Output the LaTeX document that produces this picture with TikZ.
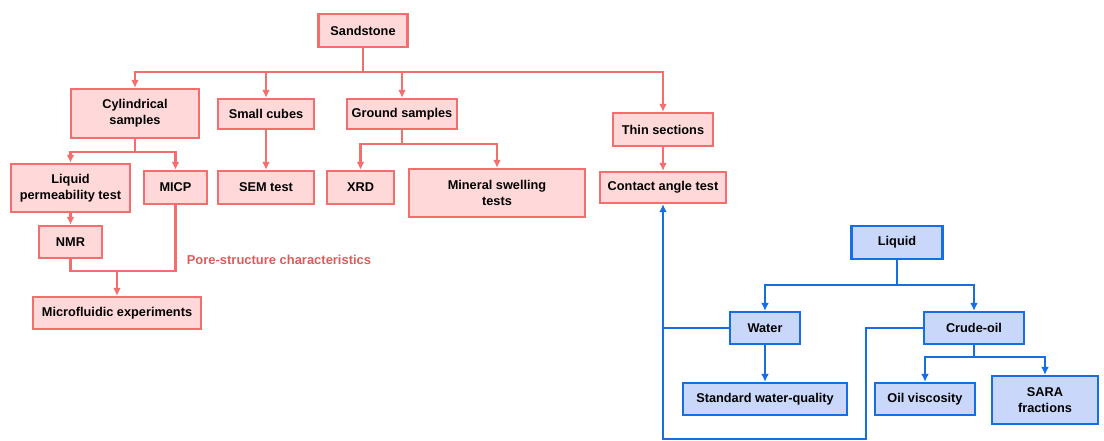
\documentclass[tikz,border=0pt]{standalone}
\usepackage{fontspec}
\setmainfont{Liberation Sans}
\usepackage{tikz}
\usetikzlibrary{arrows.meta}
\tikzset{>={Latex[length=8bp, width=8bp]}}
\definecolor{rock}{RGB}{245,110,110}
\definecolor{rockfill}{RGB}{255,217,217}
\definecolor{rocktext}{RGB}{222,92,92}
\definecolor{fluid}{RGB}{22,110,228}
\definecolor{fluidfill}{RGB}{201,216,250}
\tikzset{
  box/.style={line width=2.4bp, inner sep=0pt, align=center,
    font=\bfseries\fontsize{12.8}{16}\selectfont},
  rockbox/.style={box, draw=rock, fill=rockfill},
  fluidbox/.style={box, draw=fluid, fill=fluidfill},
  rline/.style={draw=rock, line width=2.3bp},
  bline/.style={draw=fluid, line width=2.8bp},
}

\begin{document}
\begin{tikzpicture}[x=1bp, y=-1bp]
    \useasboundingbox (0, 0) rectangle (1104, 441);
    % sample tree
    \node[rockbox, minimum width=89bp, minimum height=33bp] (sand) at (363, 30.5) {Sandstone};
    \node[rockbox, minimum width=128bp, minimum height=49bp] (cyl) at (135, 113.5) {Cylindrical\\samples};
    \node[rockbox, minimum width=96bp, minimum height=30bp] (cube) at (266, 114) {Small cubes};
    \node[rockbox, minimum width=110bp, minimum height=30bp] (ground) at (402, 114) {Ground samples};
    \node[rockbox, minimum width=100bp, minimum height=33bp] (thin) at (663, 129.5) {Thin sections};
    \node[rockbox, minimum width=126bp, minimum height=31bp] (contact) at (663, 187.5) {Contact angle test};
    \node[rockbox, minimum width=119bp, minimum height=48bp] (perm) at (70.5, 188) {Liquid\\permeability test};
    \node[rockbox, minimum width=63bp, minimum height=33bp] (micp) at (175.5, 187.5) {MICP};
    \node[rockbox, minimum width=96bp, minimum height=33bp] (sem) at (266, 187.5) {SEM test};
    \node[rockbox, minimum width=67bp, minimum height=33bp] (xrd) at (360.5, 187.5) {XRD};
    \node[rockbox, minimum width=176bp, minimum height=48bp] (swell) at (497, 193) {Mineral swelling\\tests};
    \node[rockbox, minimum width=63bp, minimum height=32bp] (nmr) at (70.5, 242) {NMR};
    \node[rockbox, minimum width=168bp, minimum height=32bp] (micro) at (117, 313) {Microfluidic experiments};
    \node[font=\bfseries\fontsize{13}{16}\selectfont, text=rocktext] (pore) at (279, 260) {Pore-structure characteristics};

    \coordinate (bus) at (363, 72);
    \coordinate (cylbus) at (135, 152);
    \coordinate (groundbus) at (402, 144);
    \coordinate (join) at (117, 271);
    \draw[rline] (sand) -- (bus);
    \draw[rline, ->] (bus) -| (cyl);
    \draw[rline, ->] (bus) -| (cube);
    \draw[rline, ->] (bus) -| (ground);
    \draw[rline, ->] (bus) -| (thin);
    \draw[rline] (cyl) -- (cylbus);
    \draw[rline, ->] (cylbus) -| (perm);
    \draw[rline, ->] (cylbus) -| (micp);
    \draw[rline, ->] (cube) -- (sem);
    \draw[rline] (ground) -- (groundbus);
    \draw[rline, ->] (groundbus) -| (xrd);
    \draw[rline, ->] (groundbus) -| (swell);
    \draw[rline, ->] (thin) -- (contact);
    \draw[rline, ->] (perm) -- (nmr);
    \draw[rline] (nmr) |- (join);
    \draw[rline] (micp) |- (join);
    \draw[rline, ->] (join) -- (micro);

    % liquid tree
    \node[fluidbox, minimum width=91bp, minimum height=33bp] (liquid) at (897, 242.5) {Liquid};
    \node[fluidbox, minimum width=70bp, minimum height=32bp] (water) at (765, 328) {Water};
    \node[fluidbox, minimum width=100bp, minimum height=32bp] (crude) at (974, 328) {Crude-oil};
    \node[fluidbox, minimum width=164bp, minimum height=32bp] (quality) at (765, 399) {Standard water-quality};
    \node[fluidbox, minimum width=100bp, minimum height=32bp] (visc) at (925, 399) {Oil viscosity};
    \node[fluidbox, minimum width=106bp, minimum height=48bp] (sara) at (1045, 400) {SARA\\fractions};

    \coordinate (lbus) at (897, 285);
    \coordinate (obus) at (974, 357);
    \coordinate (wl) at (663, 328);
    \coordinate (c1) at (866, 328);
    \coordinate (c2) at (866, 439);
    \coordinate (c3) at (663, 439);
    \draw[bline] (liquid) -- (lbus);
    \draw[bline, ->] (lbus) -| (water);
    \draw[bline, ->] (lbus) -| (crude);
    \draw[bline, ->] (water) -- (quality);
    \draw[bline] (crude) -- (obus);
    \draw[bline, ->] (obus) -| (visc);
    \draw[bline, ->] (obus) -| (sara);
    \draw[bline, ->] (water) -- (wl) -- (contact);
    \draw[bline] (crude) -- (c1) -- (c2) -- (c3) -- (wl);
\end{tikzpicture}
\end{document}
